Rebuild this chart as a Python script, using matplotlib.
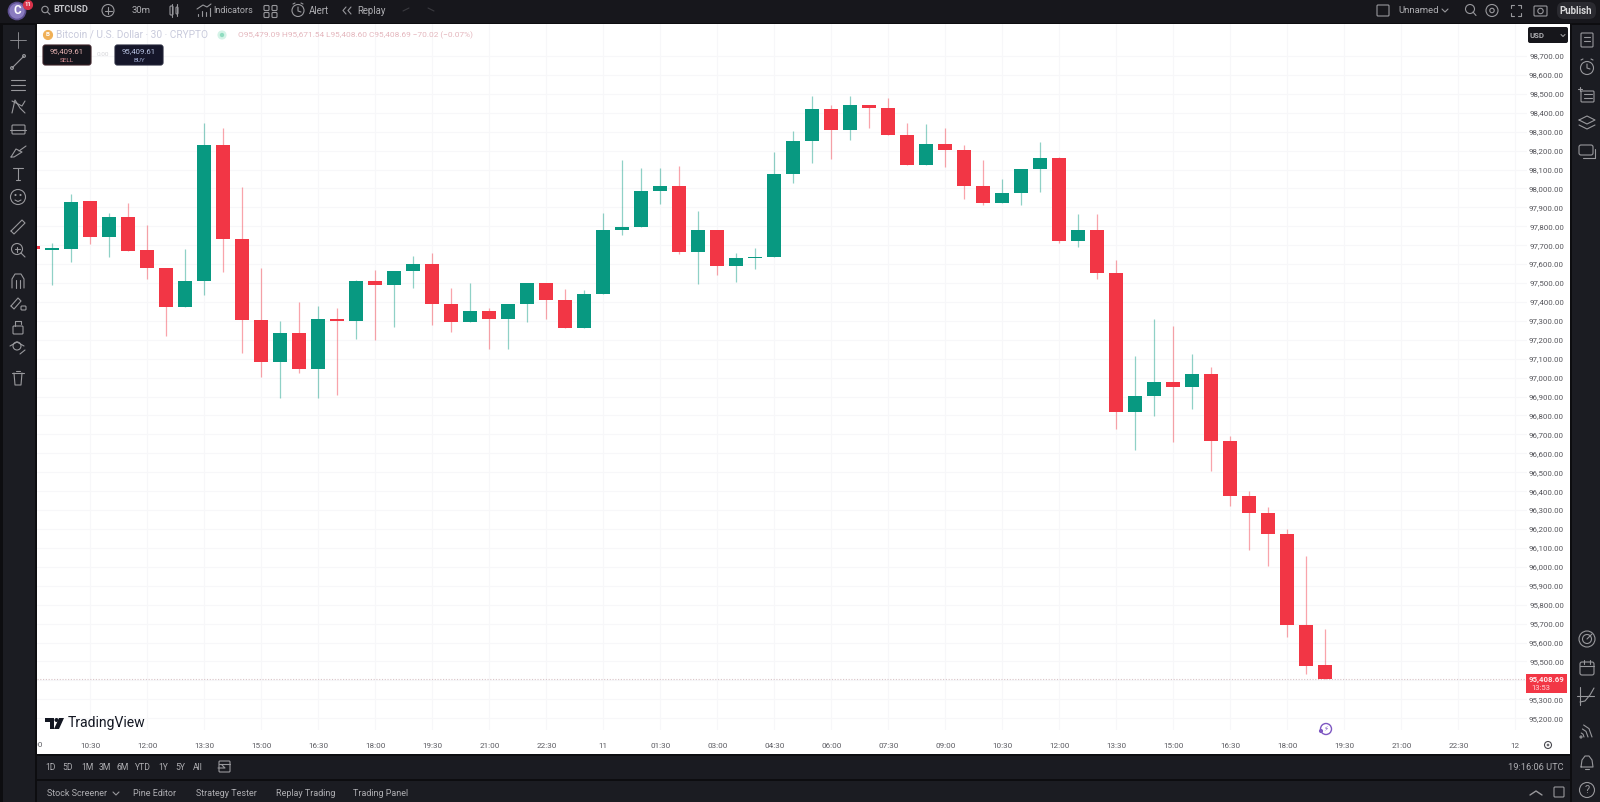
#BTCUSD 30m candlestick chart, dark TradingView style screen
import matplotlib
matplotlib.use('Agg')
import matplotlib.pyplot as plt
from matplotlib.patches import Rectangle, Circle, FancyBboxPatch, Polygon

plt.rcParams['font.family'] = ['Roboto', 'DejaVu Sans']

# candle data, first one is the half hidden 09:00 bar
idx = list(range(-1, 68))
opens = [97696, 97676, 97680, 97934, 97743, 97849, 97673, 97580, 97375, 97511, 98231, 97735, 97305,
         97083, 97236, 97046, 97310, 97301, 97511, 97490, 97562, 97602, 97391, 97292, 97351, 97310,
         97391, 97500, 97410, 97262, 97444, 97782, 97798, 97987, 98015, 97666, 97779, 97590, 97632,
         97636, 98076, 98249, 98422, 98309, 98441, 98425, 98283, 98122, 98235, 98203, 98013, 97925,
         97974, 98101, 98159, 97722, 97779, 97553, 96820, 96903, 96977, 96949, 97019, 96665, 96373,
         96285, 96174, 95695, 95479.09]
highs = [97696, 97710, 97969, 97934, 97872, 97921, 97805, 97580, 97678, 98344, 98318, 98009, 97581,
         97299, 97398, 97380, 97366, 97516, 97569, 97565, 97643, 97657, 97472, 97502, 97366, 97391,
         97500, 97500, 97467, 97463, 97872, 98150, 98110, 98110, 98119, 97883, 97779, 97657, 97684,
         98194, 98305, 98489, 98441, 98489, 98441, 98476, 98344, 98339, 98318, 98230, 98150, 98048,
         98101, 98244, 98168, 97865, 97865, 97622, 97115, 97310, 97275, 97125, 97058, 96692, 96401,
         96318, 96198, 96057, 95671.54]
lows = [97678, 97490, 97613, 97705, 97639, 97671, 97520, 97220, 97375, 97435, 97560, 97129, 97005,
        96891, 97023, 96891, 96908, 97203, 97199, 97266, 97476, 97278, 97243, 97292, 97150, 97150,
        97292, 97308, 97262, 97262, 97444, 97754, 97798, 97918, 97652, 97493, 97543, 97506, 97576,
        97636, 98027, 98133, 98156, 98256, 98321, 98283, 98122, 98122, 98115, 97946, 97912, 97925,
        97912, 97983, 97710, 97692, 97520, 96727, 96618, 96799, 96662, 96833, 96508, 96322, 96089,
        96006, 95631, 95434, 95408.60]
closes = [97678, 97682, 97930, 97743, 97849, 97671, 97580, 97375, 97511, 98231, 97735, 97305, 97083,
          97236, 97046, 97308, 97301, 97511, 97490, 97565, 97602, 97391, 97292, 97351, 97310, 97391,
          97500, 97410, 97262, 97444, 97782, 97798, 97988, 98015, 97666, 97779, 97590, 97632, 97636,
          98076, 98249, 98422, 98309, 98441, 98423, 98283, 98122, 98235, 98201, 98013, 97925, 97974,
          98101, 98159, 97722, 97779, 97553, 96820, 96903, 96977, 96949, 97019, 96665, 96373, 96285,
          96174, 95695, 95476, 95408.69]

price_ticks = list(range(95200, 98800, 100))
time_ticks = list(range(2, 78, 3))
time_labels = ['10:30', '12:00', '13:30', '15:00', '16:30', '18:00', '19:30', '21:00', '22:30', '11',
               '01:30', '03:00', '04:30', '06:00', '07:30', '09:00', '10:30', '12:00', '13:30',
               '15:00', '16:30', '18:00', '19:30', '21:00', '22:30', '12']
last_price = 95408.69

GREEN = '#089981'
RED = '#f23645'
ICON = '#98989c'
W, H = 1600, 802

fig = plt.figure(figsize=(W/100, H/100), dpi=100, facecolor='#0d0d10')

# ui layers in screen pixels, y going down. ui sits under the chart, top over it
ui = fig.add_axes([0, 0, 1, 1], zorder=1)
ui.set_xlim(0, W); ui.set_ylim(H, 0); ui.axis('off')
top = fig.add_axes([0, 0, 1, 1], zorder=4)
top.set_xlim(0, W); top.set_ylim(H, 0); top.axis('off')
cur = ui

def box(x, y, w, h, col, z=1):
    cur.add_patch(Rectangle((x, y), w, h, fc=col, ec='none', zorder=z))

def txt(x, y, s, col='#aeaeb2', size=6.6, ha='left', **kw):
    return cur.text(x, y, s, color=col, fontsize=size, ha=ha, va='center', zorder=6, **kw)

def ln(xs, ys, col=ICON, lw=0.8, z=5):
    cur.plot(xs, ys, color=col, lw=lw, zorder=z, solid_capstyle='round')

def rect_ic(x, y, w, h, col=ICON, lw=0.8, r=1.0):
    cur.add_patch(FancyBboxPatch((x, y), w, h, boxstyle=f'round,pad=0,rounding_size={r}',
                                 fc='none', ec=col, lw=lw, zorder=5))

def circ(x, y, r, col=ICON, lw=0.8, fill='none'):
    cur.add_patch(Circle((x, y), r, fc=fill, ec=col, lw=lw, zorder=5))

# panels
box(0, 0, W, 23, '#17171c')
box(3, 25, 32, 777, '#1b1c22')
box(1572, 25, 28, 777, '#1b1c22')
box(37, 756, 1533, 23, '#1a1b21')
box(37, 781, 1533, 21, '#1b1c22')
pane = Rectangle((37, 24), 1533, 730, fc='white', ec='none', zorder=2)
ui.add_patch(pane)

# top bar
circ(17, 11, 8.5, col='#5d4f90', fill='#8a7cc0', lw=1.2)
txt(17, 11, 'C', col='white', size=8.5, ha='center', fontweight='bold')
circ(28, 5, 4.5, col='#d8324a', fill='#d8324a')
txt(28, 5, '11', col='white', size=4.2, ha='center', fontweight='bold')
circ(45, 9.5, 3.2); ln([47.5, 50], [12, 14.5])
txt(53, 10, 'BTCUSD', col='#c4c4c8', size=6.6, fontweight='bold')
circ(108, 10.5, 6); ln([104.5, 111.5], [10.5, 10.5]); ln([108, 108], [7, 14])
txt(132, 10.5, '30m', size=6.8)
rect_ic(170, 6, 3, 9); rect_ic(176, 7, 2, 7); ln([171.5, 171.5], [4, 17]); ln([177, 177], [4, 16])
for i, (a, b) in enumerate([(14, 16), (11, 16), (12, 16), (8, 16)]):
    ln([198+i*4, 198+i*4], [a, b])
ln([197, 203, 207, 211], [9, 5, 7, 4])
txt(213, 10.5, 'Indicators', size=6.5)
for gx in (265, 273):
    for gy in (5.5, 12.5):
        rect_ic(gx-1, gy, 5, 5)
circ(298, 10.5, 6); ln([298, 298, 301], [7, 11, 12]); ln([293, 295], [4, 3]); ln([301, 303], [3, 4])
txt(309, 10.5, 'Alert', size=6.9)
ln([346, 343, 346], [7, 10.5, 14]); ln([351, 348, 351], [7, 10.5, 14])
txt(357, 10.5, 'Replay', size=6.9)
ln([403, 409], [11, 8], col='#3a3a40'); ln([428, 434], [8, 11], col='#3a3a40')
rect_ic(1377, 5, 12, 11)
txt(1398, 10.5, 'Unnamed', size=6.8)
ln([1442, 1445, 1448], [9, 12, 9])
circ(1470, 9, 4.5); ln([1473, 1476], [12, 15.5])
circ(1492, 10.5, 6); circ(1492, 10.5, 2.2)
for cx, cy, dx, dy in [(1511, 5, 1, 1), (1521, 5, -1, 1), (1511, 16, 1, -1), (1521, 16, -1, -1)]:
    ln([cx, cx, cx+3*dx], [cy+3*dy, cy, cy])
rect_ic(1534, 6, 13, 10); circ(1540.5, 11, 2.7)
ui.add_patch(FancyBboxPatch((1557, 2), 39, 17, boxstyle='round,pad=0,rounding_size=7',
                            fc='#2a2a30', ec='none', zorder=4))
txt(1576, 10.5, 'Publish', col='#d8d8da', size=6.9, ha='center', fontweight='bold')

# left toolbar
lx = 18
ln([lx-8, lx+8], [40, 40], lw=0.6); ln([lx, lx], [32, 48], lw=0.6)
ln([lx-6, lx+6], [68, 56]); circ(lx-6, 68, 1.4); circ(lx+6, 56, 1.4)
for yy in (80, 85, 90):
    ln([lx-7, lx+7], [yy, yy])
ln([lx-6, lx-3, lx+2, lx+7], [113, 100, 108, 113]); ln([lx-6, lx+4, lx+7], [101, 106, 101])
rect_ic(lx-6, 125, 13, 9); ln([lx-8, lx+8], [130, 130])
ln([lx-7, lx-2, lx+4, lx-4, lx-7], [157, 149, 152, 157, 157]); ln([lx+1, lx+8], [151, 146])
ln([lx-5, lx+5], [168, 168]); ln([lx, lx], [168, 180]); ln([lx-2, lx+2], [180, 180])
circ(lx, 197, 7.5); circ(lx-2.5, 195, 0.5); circ(lx+2.5, 195, 0.5); ln([lx-3, lx, lx+3], [200, 201.5, 200])
ln([lx-7, lx+4, lx+7, lx-4, lx-7], [231, 220, 223, 234, 231])
circ(lx-1, 249, 5.5); ln([lx+3, lx+7], [253, 257]); ln([lx-3.5, lx+1.5], [249, 249]); ln([lx-1, lx-1], [246.5, 251.5])
ln([lx-6, lx-6, lx-3, lx+3, lx+6, lx+6], [288, 279, 274, 274, 279, 288]); ln([lx-2, lx-2], [280, 288]); ln([lx+2, lx+2], [280, 288])
ln([lx-7, lx, lx+3, lx-4, lx-7], [306, 298, 301, 309, 306]); rect_ic(lx+3, 306, 5, 4)
rect_ic(lx-5, 326, 10, 8); ln([lx-3, lx-3, lx+3, lx+3], [326, 321, 321, 324])
circ(lx-1, 346, 4); ln([lx-8, lx-1, lx+6], [346, 342, 346]); ln([lx+2, lx+7], [354, 350])
ln([lx-6, lx+6], [373, 373]); ln([lx-4, lx-3, lx+3, lx+4], [373, 385, 385, 373]); ln([lx-2, lx+2], [371, 371])

# right toolbar
rx = 1587
rect_ic(rx-6, 33, 12, 14); ln([rx-3, rx+3], [37, 37]); ln([rx-3, rx+3], [41, 41])
circ(rx, 68, 6.5); ln([rx, rx, rx+3], [64, 68, 69]); ln([rx-6, rx-4], [60, 59]); ln([rx+4, rx+6], [59, 60])
rect_ic(rx-6, 91, 13, 11); ln([rx-3, rx+5], [94, 94]); ln([rx-3, rx+5], [98, 98]); ln([rx-9, rx-5], [89, 89]); ln([rx-7, rx-7], [87, 91])
ln([rx-8, rx, rx+8, rx, rx-8], [120, 116, 120, 124, 120]); ln([rx-8, rx, rx+8], [125, 129, 125])
rect_ic(rx-8, 145, 14, 10, r=2); ln([rx+8, rx+8], [149, 158]); ln([rx-4, rx+8], [158, 158])
circ(rx, 639, 8); circ(rx, 639, 4.5); ln([rx, rx+5], [639, 634])
rect_ic(rx-7, 662, 14, 13, r=2); ln([rx-7, rx+7], [666, 666]); ln([rx-3, rx-3], [660, 664]); ln([rx+3, rx+3], [660, 664])
ln([rx-7, rx-7], [687, 705]); ln([rx-7, rx-2, rx+3, rx+7], [702, 701, 695, 688]); ln([rx-10, rx+7], [696, 696])
for r in (4, 8, 12):
    ln([rx-7+r*0.3, rx-7+r*0.75, rx-7+r], [737-r, 737-r*0.7, 737])
circ(rx-6, 737, 1)
ln([rx-6, rx-5, rx-2, rx+2, rx+5, rx+6, rx-6], [767, 760, 756, 756, 760, 767, 767]); ln([rx-2, rx+2], [769, 769])
circ(rx, 790, 7.5); txt(rx, 790, '?', col=ICON, size=8, ha='center')

# bottom rows
for x, s in zip([51, 68, 87, 105, 123, 143, 163, 180, 198],
                ['1D', '5D', '1M', '3M', '6M', 'YTD', '1Y', '5Y', 'All']):
    txt(x, 767, s, size=6.2, ha='center')
rect_ic(219, 761, 11, 11); ln([219, 230], [764, 764]); ln([218, 225, 222], [768, 768, 765])
txt(1564, 767, '19:16:06 UTC', size=6.7, ha='right')
for x, s in zip([47, 133, 196, 276, 353],
                ['Stock Screener', 'Pine Editor', 'Strategy Tester', 'Replay Trading', 'Trading Panel']):
    txt(x, 793, s, size=6.5)
ln([113, 116, 119], [792, 795, 792])
ln([1530, 1536, 1542], [795, 791, 795], lw=1.0)
rect_ic(1554, 787, 10, 10)

# cut off first time label
first = txt(33, 745, '09:00', col='#5c5c62', size=5.9, ha='center')
first.set_clip_on(True)
first.set_clip_path(pane)

# everything from here on lies over the grid
cur = top

# legend line on the chart
circ(48, 35, 4.5, col='#f0b056', fill='#f0b056')
txt(48, 35, 'B', col='white', size=4.5, ha='center', fontweight='bold')
txt(56, 35, 'Bitcoin / U.S. Dollar · 30 · CRYPTO', col='#c9cbdc', size=7.3)
circ(222, 35, 4, col='#d4f3e7', fill='#d4f3e7'); circ(222, 35, 1.6, col='#8fdcc0', fill='#8fdcc0')
txt(238, 35, 'O95,479.09 H95,671.54 L95,408.60 C95,408.69 −70.02 (−0.07%)', col='#e4b6bd', size=5.95)

top.add_patch(FancyBboxPatch((43, 45), 48, 20, boxstyle='round,pad=0,rounding_size=2.5',
                             fc='#15151c', ec='#3a2026', lw=0.8, zorder=4))
txt(67, 51, '95,409.61', col='#e6b3b3', size=5.6, ha='center')
txt(67, 60, 'SELL', col='#d98f94', size=4.6, ha='center')
txt(103, 55, '0.00', col='#d4d4d8', size=4.6, ha='center')
top.add_patch(FancyBboxPatch((115, 45), 48, 20, boxstyle='round,pad=0,rounding_size=2.5',
                             fc='#15162a', ec='#24263a', lw=0.8, zorder=4))
txt(139, 51, '95,409.61', col='#b9c4e4', size=5.6, ha='center')
txt(139, 60, 'BUY', col='#9ba6cc', size=4.6, ha='center')

top.add_patch(FancyBboxPatch((1528, 27), 40, 16, boxstyle='round,pad=0,rounding_size=2',
                             fc='#16161b', ec='none', zorder=4))
txt(1530, 35, 'USD', col='#aeaeb2', size=5.6, fontweight='bold')
ln([1561, 1563, 1565], [34.5, 36.5, 34.5])

# logo
top.add_patch(Polygon([(45, 718), (54, 718), (54, 729), (50, 729), (50, 722), (45, 722)], fc='#131722', ec='none', zorder=6))
circ(56.5, 720, 2, col='#131722', fill='#131722', lw=0)
top.add_patch(Polygon([(59, 718), (64, 718), (59, 729), (54, 729)], fc='#131722', ec='none', zorder=6))
txt(68, 723.5, 'TradingView', col='#131722', size=10.1)

# replay mark and scroll button
circ(1326, 729, 5.5, col='#7e57c2', lw=1)
txt(1326, 729, '⚡', col='#7e57c2', size=5, ha='center', family=['DejaVu Sans'])
circ(1321, 731, 1.5, col='#7e57c2', fill='#7e57c2')
circ(1548, 745, 3.5, col='#4a4a50', lw=0.8); circ(1548, 745, 0.9, col='#4a4a50', lw=0.6)

# candles, drawn from the ohlc lists
x0 = (37-52.3)/19.0
x1 = (1527-52.3)/19.0
y_top = 98700+(56-24)/0.1892
y_bot = 98700-(730-56)/0.1892
ax = fig.add_axes([37/W, 1-730/H, (1527-37)/W, (730-24)/H], zorder=3)
ax.patch.set_alpha(0)
for sp in ax.spines.values():
    sp.set_visible(False)

wcol = [GREEN if c >= o else RED for o, c in zip(opens, closes)]
bottoms = [min(o, c) for o, c in zip(opens, closes)]
heights = [max(abs(c-o), 8) for o, c in zip(opens, closes)]
ax.vlines(idx, lows, highs, colors=wcol, lw=0.9, alpha=0.45, zorder=2)
ax.bar(idx, heights, bottom=bottoms, width=0.74, color=wcol, zorder=3)
ax.axhline(last_price, color='#d9c4c8', lw=0.8, ls=(0, (1, 1.5)), zorder=1)

ax.set_xlim(x0, x1); ax.set_ylim(y_bot, y_top)
ax.set_xticks(time_ticks, time_labels)
ax.set_yticks(price_ticks, [f'{p:,.2f}' for p in price_ticks])
ax.yaxis.tick_right()
ax.tick_params(axis='y', length=0, pad=26.6, labelsize=5.7, labelcolor='#55555b')
ax.tick_params(axis='x', length=0, pad=9, labelsize=5.9, labelcolor='#5c5c62')
for t in ax.get_yticklabels():
    t.set_ha('right')
ax.grid(True, color='#f7f7f9', lw=0.8)
ax.set_axisbelow(True)

# last price tag on the axis
top.add_patch(Rectangle((1526, 674), 41, 19, fc=RED, ec='none'))
top.text(1564, 679.5, '95,408.69', color='#ffe9ea', fontsize=5.7, ha='right', va='center', fontweight='bold')
top.text(1531, 688, '13:53', color='#ffd4d8', fontsize=5.5, ha='left', va='center')

plt.savefig('out.png', dpi=100, facecolor=fig.get_facecolor())
